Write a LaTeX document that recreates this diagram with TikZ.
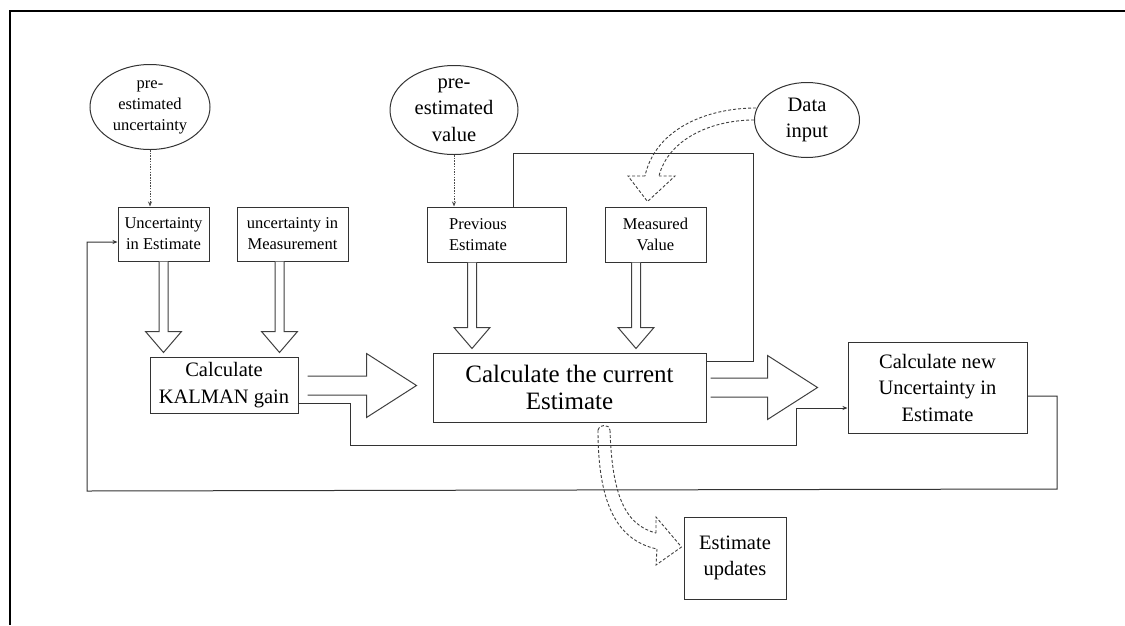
\documentclass[tikz,border=0pt]{standalone}
\usepackage{fontspec}
\setmainfont{Liberation Serif}
\usetikzlibrary{shapes.geometric,arrows.meta,calc}
\begin{document}
\begin{tikzpicture}[x=1pt,y=-1pt,
  ln/.style={draw=black!80,line width=1pt},
  box/.style={ln,rectangle,inner sep=0pt,align=center},
  oval/.style={ln,ellipse,inner sep=0pt,align=center},
  sm/.style={font=\fontsize{16.5}{21}\selectfont},
  lg/.style={font=\fontsize{20.5}{26.5}\selectfont},
  xl/.style={font=\fontsize{25}{27}\selectfont},
  tipa/.style={-{Stealth[length=5pt,width=4pt]}},
  dots/.style={draw=black!70,line width=0.8pt,dash pattern=on 1.5pt off 1.2pt},
  dsh/.style={draw=black!75,line width=0.9pt,dash pattern=on 3pt off 2pt},
  blk/.style={draw=black!75,line width=1pt,fill=white}
]
\useasboundingbox (0,0) rectangle (1125,625);
\fill[white] (0,0) rectangle (1125,625);
\draw[line width=2pt] (1125,11) -- (10,11) -- (10,625);

% ellipses
\node[oval,sm,minimum width=120,minimum height=85] (pu) at (150,107) {pre-\\estimated\\uncertainty};
\node[oval,lg,minimum width=128,minimum height=89] (pv) at (454,110) {pre-\\estimated\\value};
\node[oval,lg,minimum width=105,minimum height=75] (di) at (807,120) {Data\\input};

% boxes
\node[box,sm,minimum width=91,minimum height=54] (ue) at (163.5,234) {Uncertainty\\in Estimate};
\node[box,sm,minimum width=111,minimum height=54] (um) at (292.5,234) {uncertainty in\\Measurement};
\node[box,minimum width=139,minimum height=55] (pe) at (496.5,234.5) {};
\node[sm,align=center,inner sep=0pt] (pet) at (478,234.5) {Previous\\Estimate};
\node[box,sm,minimum width=101,minimum height=55] (mv) at (655.5,234.5) {Measured\\Value};
\node[box,lg,minimum width=148,minimum height=56] (kg) at (224,385) {Calculate\\KALMAN gain};
\node[box,xl,minimum width=273,minimum height=69] (ce) at (569.5,387.5) {Calculate the current\\Estimate};
\node[box,lg,minimum width=179,minimum height=91] (nu) at (937.5,387.5) {Calculate new\\Uncertainty in\\Estimate};
\node[box,lg,minimum width=102,minimum height=82] (eu) at (735,558) {Estimate\\updates};

% dotted arrows from ellipses
\draw[dots,tipa] (pu.south) -- (pu.south |- ue.north);
\draw[dots,tipa] (pv.south) -- (pv.south |- pe.north);

% hollow block arrows down
\newcommand\blkdown[3]{%
  \coordinate (bs) at (#1,0 |- #2.south);
  \coordinate (bt) at ($(#1,0 |- #3.north)+(0,-4)$);
  \draw[blk] ($(bs)+(-4.5,0)$) -- ($(bt)+(-4.5,-21)$) -- ($(bt)+(-18,-21)$) -- (bt)
    -- ($(bt)+(18,-21)$) -- ($(bt)+(4.5,-21)$) -- ($(bs)+(4.5,0)$);
}
\blkdown{163.5}{ue}{kg}
\blkdown{279.5}{um}{kg}
\blkdown{472}{pe}{ce}
\blkdown{636}{mv}{ce}

% hollow block arrows right
\newcommand\blkright[5]{%
  \coordinate (bs) at ($(#2.east |- 0,#1)+(#4,0)$);
  \coordinate (bt) at ($(#3.west |- 0,#1)+(-#5,0)$);
  \draw[blk] ($(bs)+(0,-9.5)$) -- ($(bt)+(-50,-9.5)$) -- ($(bt)+(-50,-32)$) -- (bt)
    -- ($(bt)+(-50,32)$) -- ($(bt)+(-50,9.5)$) -- ($(bs)+(0,9.5)$);
}
\blkright{385.5}{kg}{ce}{9}{16}
\blkright{387.5}{ce}{nu}{4}{30}

% feedback lines
\draw[ln] (ce.east |- 0,361) -- (753,361) -- (753,153) -- (513,153) -- (513,0 |- pe.north);
\draw[ln,tipa] (kg.east |- 0,403) -- (350,403) -- (350,445) -- (796,445) -- (796,408) -- (nu.west |- 0,408);
\draw[ln,tipa] (nu.east |- 0,396) -- (1057,396) -- (1057,489) -- (87,491) -- (87,242) -- (ue.west |- 0,242);

% dashed curved arrow: data input -> measured value
\draw[dsh] ($(di.west)+(2,-12)$) .. controls (705,108) and (655,130) .. (645,176);
\draw[dsh] (di.west) .. controls (710,120) and (668,140) .. (659,176);
\draw[dsh] (645,176) -- (628,176) -- ($(mv.north)+(-8,-5)$) -- (675,176) -- (659,176);

% dashed curved arrow: current estimate -> estimate updates
\draw[dsh] (598,430) .. controls (598,424) and (610,424) .. (610,430);
\draw[dsh] (598,430) .. controls (598,500) and (615,540) .. (657,549);
\draw[dsh] (610,430) .. controls (612,495) and (625,525) .. (656,533);
\draw[dsh] (656,533) -- (656,517) -- ($(eu.west)+(-2,-11)$) -- (656,565) -- (657,549);
\end{tikzpicture}
\end{document}
